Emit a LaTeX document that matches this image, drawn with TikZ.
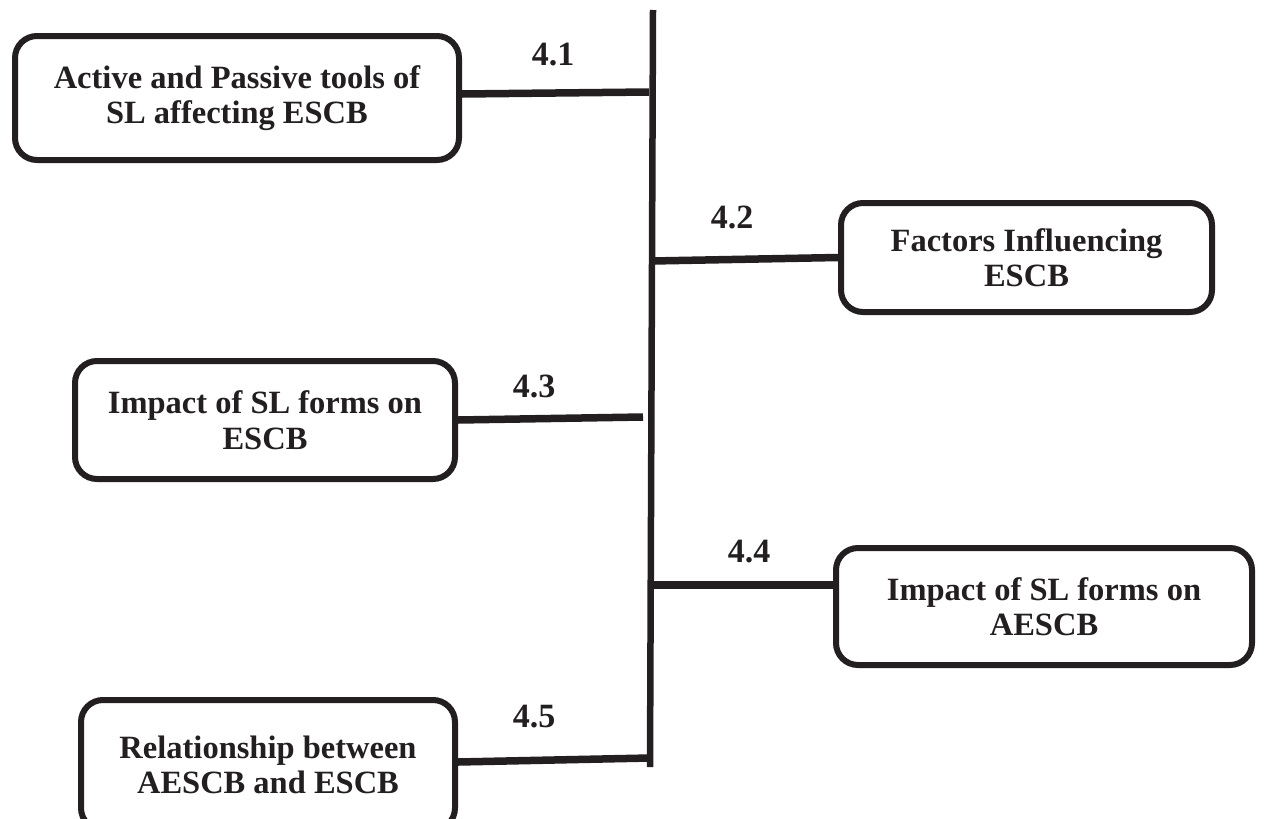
\documentclass[tikz,border=0pt]{standalone}
\usepackage{fontspec}
\setmainfont{Liberation Serif}
\definecolor{ink}{RGB}{35,31,32}
\begin{document}
\begin{tikzpicture}[x=1pt,y=-1pt,
  every node/.style={text=ink},
  box/.style={draw=ink, line width=6pt, rounded corners=22pt, align=center,
    font=\bfseries\fontsize{32.5}{35.5}\selectfont, inner sep=0pt},
  conn/.style={draw=ink, line width=7.5pt},
  spine/.style={draw=ink, line width=6.5pt},
  lbl/.style={font=\bfseries\fontsize{34}{38}\selectfont, inner sep=0pt}]
\useasboundingbox (0,0) rectangle (1274,819);
\clip (0,0) rectangle (1274,819);

% boxes
\node[box, minimum width=444pt, minimum height=124pt] (b1) at (237,98)
  {Active and Passive tools of\\SL affecting ESCB};
\node[box, minimum width=371pt, minimum height=109pt] (b2) at (1026.5,257.5)
  {Factors Influencing\\ESCB};
\node[box, minimum width=380pt, minimum height=118pt] (b3) at (265,420)
  {Impact of SL forms on\\ESCB};
\node[box, minimum width=416pt, minimum height=117pt] (b4) at (1044,606.5)
  {Impact of SL forms on\\AESCB};
\node[box, minimum width=374pt, minimum height=130pt] (b5) at (268,765)
  {Relationship between\\AESCB and ESCB};

% spine
\coordinate (top) at (653,10);
\coordinate (bot) at (650,767);
\draw[spine] (top) -- (bot);

\coordinate (s1) at (649,92);
\coordinate (s2) at (652,261);
\coordinate (s3) at (643,417);
\coordinate (s4) at (652,585);
\coordinate (s5) at (650,758);

% connectors
\draw[conn] ([yshift=4pt]b1.east) -- (s1);
\draw[conn] (s2) -- (b2.west);
\draw[conn] (b3.east) -- (s3);
\draw[conn] (s4) -- (s4 -| b4.west);
\draw[conn] ([yshift=3pt]b5.east) -- (s5);

% labels
\node[lbl] (l1) at (553,55) {4.1};
\node[lbl] (l2) at (732,217) {4.2};
\node[lbl] (l3) at (534,386) {4.3};
\node[lbl] (l4) at (749,552) {4.4};
\node[lbl] (l5) at (534,717) {4.5};
\end{tikzpicture}
\end{document}
